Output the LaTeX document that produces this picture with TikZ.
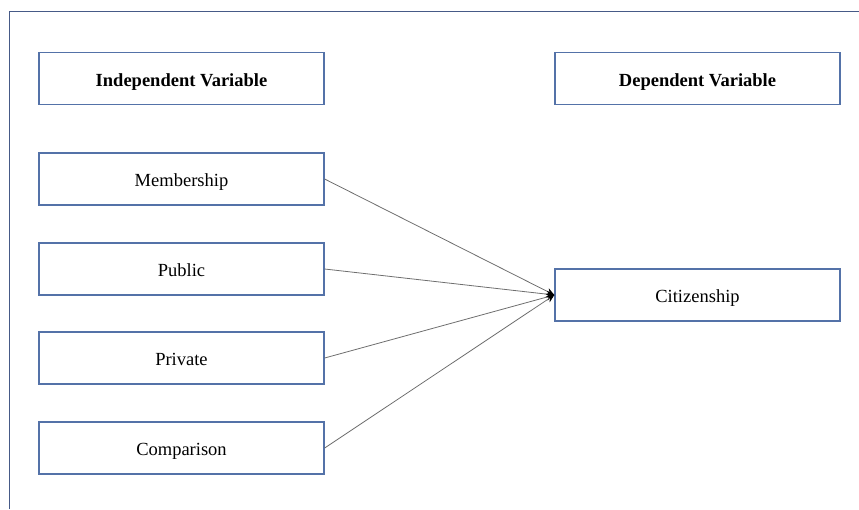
\documentclass[tikz,border=0pt]{standalone}
\usepackage{fontspec}
\setmainfont{Liberation Serif}
\usetikzlibrary{arrows.meta}
\definecolor{boxblue}{RGB}{84,114,168}
\definecolor{framecol}{RGB}{70,90,135}
\definecolor{linegray}{RGB}{110,110,110}
\begin{document}
\begin{tikzpicture}[x=1pt,y=-1pt,
  varbox/.style={draw=boxblue,line width=1.3pt,minimum width=285pt,minimum height=52pt,inner sep=0pt,text height=19pt,text depth=4pt,font=\fontsize{18.5}{22}\selectfont},
  conn/.style={draw=linegray,line width=0.8pt,-{Stealth[length=8pt,width=7pt,black]}}]
\useasboundingbox (0,0) rectangle (859,509);
\draw[framecol,line width=1pt] (9,509) -- (9,11) -- (859,11);
\node[varbox] (iv) at (181.5,78.5) {\textbf{Independent Variable}};
\node[varbox] (dv) at (697.5,78.5) {\textbf{Dependent Variable}};
\node[varbox] (mem) at (181.5,179) {Membership};
\node[varbox] (pub) at (181.5,269) {Public};
\node[varbox] (pri) at (181.5,358) {Private};
\node[varbox] (com) at (181.5,448) {Comparison};
\node[varbox] (cit) at (697.5,295) {Citizenship};
\draw[conn] (mem.east) -- (cit.west);
\draw[conn] (pub.east) -- (cit.west);
\draw[conn] (pri.east) -- (cit.west);
\draw[conn] (com.east) -- (cit.west);
\end{tikzpicture}
\end{document}
